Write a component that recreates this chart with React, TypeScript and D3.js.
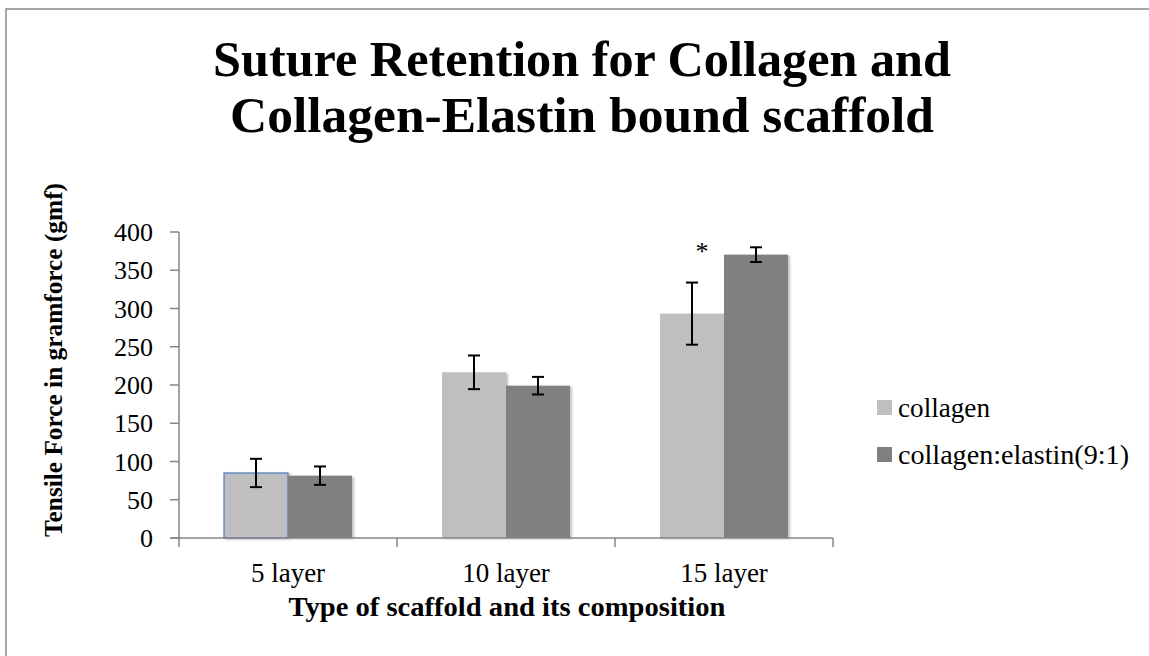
import React from "react";
import * as d3 from "d3";

const categories = ["5 layer", "10 layer", "15 layer"];
const seriesNames = ["collagen", "collagen:elastin(9:1)"];
const collagenValues = [85, 216.6, 293.3];
const collagenErrors = [18.5, 22, 40.6];
const elastinValues = [81.5, 199.1, 370.4];
const elastinErrors = [12, 11.5, 9.6];
const yTicks = [0, 50, 100, 150, 200, 250, 300, 350, 400];
const titleLines = ["Suture Retention for Collagen and", "Collagen-Elastin bound scaffold"];
const yTitle = "Tensile Force in gramforce (gmf)";
const xTitle = "Type of scaffold and its composition";

const colors = ["#BFBFBF", "#808080"];
const FONT = "'Liberation Serif', 'DejaVu Serif', serif";

export default function App() {
  const left = 179, right = 833, top = 232, bottom = 538;
  const x = d3.scaleBand<string>().domain(categories).range([left, right]).padding(0);
  const xi = d3.scaleBand<string>().domain(seriesNames).range([0, x.bandwidth()]).paddingInner(0).paddingOuter(0.703);
  const y = d3.scaleLinear().domain([0, 400]).range([bottom, top]);
  const vals = [collagenValues, elastinValues];
  const errs = [collagenErrors, elastinErrors];
  const axisColor = "#868686";
  const titleWidths = [738, 704];
  const legendWidths = [92, 231];

  return (
    <svg width={1149} height={656} style={{ position: "absolute", left: 0, top: 0, background: "#fff" }} fontFamily={FONT}>
      <defs>
        <filter id="sh" x="-10%" y="-10%" width="130%" height="130%">
          <feDropShadow dx="2" dy="1" stdDeviation="1.2" floodColor="#000" floodOpacity="0.25" />
        </filter>
      </defs>
      <rect x={6} y={9} width={1160} height={660} fill="#fff" stroke="#8a8a8a" strokeWidth={1.5} />
      {titleLines.map((t, i) => (
        <text key={i} x={582} y={76 + i * 56} textAnchor="middle" fontWeight="bold" fontSize={50}
          textLength={titleWidths[i]} lengthAdjust="spacingAndGlyphs">{t}</text>
      ))}
      {/* bars */}
      {seriesNames.map((s, si) =>
        categories.map((c, ci) => {
          const bx = (x(c) as number) + (xi(s) as number);
          const v = vals[si][ci];
          return (
            <rect key={s + c} x={bx} y={y(v)} width={xi.bandwidth()} height={bottom - y(v)} fill={colors[si]} filter="url(#sh)"
              stroke={si === 0 && ci === 0 ? "#4F81BD" : "none"} strokeWidth={1.2} />
          );
        })
      )}
      {/* axes */}
      <line x1={left} x2={left} y1={top} y2={bottom} stroke={axisColor} strokeWidth={1.5} />
      <line x1={170} x2={right} y1={bottom} y2={bottom} stroke={axisColor} strokeWidth={1.5} />
      {yTicks.map(t => (
        <g key={t}>
          <line x1={170} x2={left} y1={y(t)} y2={y(t)} stroke={axisColor} strokeWidth={1.5} />
          <text x={153} y={y(t) + 9} textAnchor="end" fontSize={26}>{t}</text>
        </g>
      ))}
      {categories.map((c) => (
        <line key={c} x1={(x(c) as number) + x.bandwidth()} x2={(x(c) as number) + x.bandwidth()} y1={bottom} y2={bottom + 9} stroke={axisColor} strokeWidth={1.5} />
      ))}
      <line x1={left} x2={left} y1={bottom} y2={bottom + 9} stroke={axisColor} strokeWidth={1.5} />
      {categories.map(c => (
        <text key={c} x={(x(c) as number) + x.bandwidth() / 2} y={582} textAnchor="middle" fontSize={27}>{c}</text>
      ))}
      {/* error bars */}
      {seriesNames.map((s, si) =>
        categories.map((c, ci) => {
          const cx = (x(c) as number) + (xi(s) as number) + xi.bandwidth() / 2;
          const v = vals[si][ci], e = errs[si][ci];
          return (
            <g key={"e" + s + c} stroke="#000" strokeWidth={2}>
              <line x1={cx} x2={cx} y1={y(v + e)} y2={y(v - e)} />
              <line x1={cx - 6} x2={cx + 6} y1={y(v + e)} y2={y(v + e)} />
              <line x1={cx - 6} x2={cx + 6} y1={y(v - e)} y2={y(v - e)} />
            </g>
          );
        })
      )}
      <text x={(x("15 layer") as number) + (xi(seriesNames[0]) as number) + xi.bandwidth() / 2 + 10} y={260} textAnchor="middle" fontSize={26}>*</text>
      <text x={507} y={616} textAnchor="middle" fontWeight="bold" fontSize={27} textLength={437} lengthAdjust="spacingAndGlyphs">{xTitle}</text>
      <text transform={`translate(62, 360) rotate(-90)`} textAnchor="middle" fontWeight="bold" fontSize={26} textLength={354} lengthAdjust="spacingAndGlyphs">{yTitle}</text>
      {seriesNames.map((s, i) => (
        <g key={s}>
          <rect x={877} y={400 + i * 47} width={15} height={15} fill={colors[i]} />
          <text x={898} y={417 + i * 47} fontSize={27} textLength={legendWidths[i]} lengthAdjust="spacingAndGlyphs">{s}</text>
        </g>
      ))}
    </svg>
  );
}
